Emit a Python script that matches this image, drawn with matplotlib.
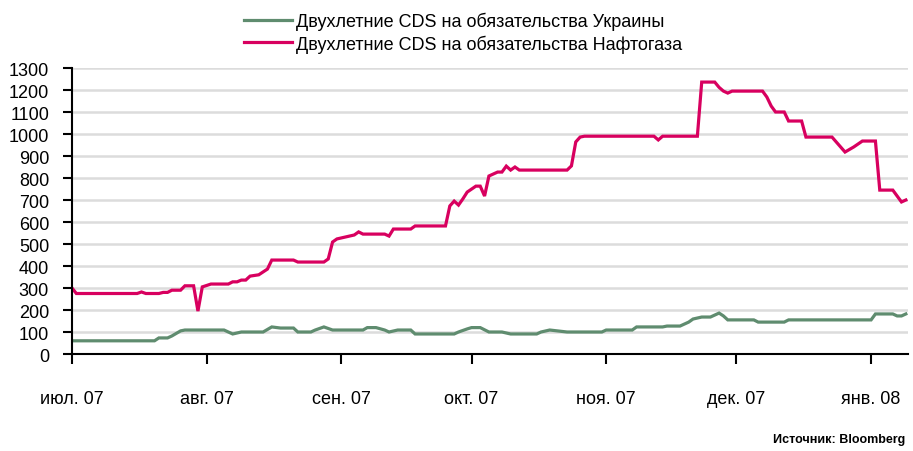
import matplotlib
matplotlib.use("Agg")
import numpy as np
import pandas as pd
from matplotlib import pyplot as plt

plt.rcParams["font.family"] = ["Liberation Sans", "DejaVu Sans"]

# Naftogaz 2y CDS (bp), key points
naftogaz_dates = [
    "2007-07-01", "2007-07-02", "2007-07-16", "2007-07-17", "2007-07-18", "2007-07-21",
    "2007-07-22", "2007-07-23", "2007-07-24", "2007-07-26", "2007-07-27", "2007-07-29",
    "2007-07-30", "2007-07-31", "2007-08-02", "2007-08-06", "2007-08-07", "2007-08-08",
    "2007-08-09", "2007-08-10", "2007-08-11", "2007-08-13", "2007-08-15", "2007-08-16",
    "2007-08-21", "2007-08-22", "2007-08-28", "2007-08-29", "2007-08-30", "2007-08-31",
    "2007-09-02", "2007-09-04", "2007-09-05", "2007-09-06", "2007-09-11", "2007-09-12",
    "2007-09-13", "2007-09-17", "2007-09-18", "2007-09-25", "2007-09-26", "2007-09-27",
    "2007-09-28", "2007-09-29", "2007-09-30", "2007-10-02", "2007-10-03", "2007-10-04",
    "2007-10-05", "2007-10-06", "2007-10-07", "2007-10-08", "2007-10-09", "2007-10-10",
    "2007-10-11", "2007-10-12", "2007-10-23", "2007-10-24", "2007-10-25", "2007-10-26",
    "2007-10-27", "2007-11-12", "2007-11-13", "2007-11-14", "2007-11-22", "2007-11-23",
    "2007-11-26", "2007-11-27", "2007-11-28", "2007-11-29", "2007-11-30", "2007-12-07",
    "2007-12-08", "2007-12-09", "2007-12-10", "2007-12-12", "2007-12-13", "2007-12-16",
    "2007-12-17", "2007-12-23", "2007-12-26", "2007-12-28", "2007-12-30", "2008-01-02",
    "2008-01-03", "2008-01-06", "2008-01-07", "2008-01-08", "2008-01-09",
]
naftogaz_values = [
    300, 275, 275, 282, 275, 275,
    280, 280, 290, 290, 310, 310,
    195, 305, 318, 318, 328, 328,
    336, 336, 354, 360, 386, 427,
    427, 418, 418, 432, 509, 523,
    532, 541, 555, 545, 545, 536,
    568, 568, 582, 582, 673, 695,
    677, 705, 736, 763, 763, 718,
    809, 818, 827, 827, 854, 836,
    850, 836, 836, 855, 964, 986,
    990, 990, 973, 990, 990, 1236,
    1236, 1212, 1195, 1186, 1195, 1195,
    1168, 1127, 1100, 1100, 1059, 1059,
    986, 986, 918, 941, 968, 968,
    745, 745, 718, 691, 700,
]

# Ukraine 2y CDS (bp)
ukraine_dates = [
    "2007-07-01", "2007-07-20", "2007-07-21", "2007-07-23", "2007-07-24", "2007-07-26",
    "2007-07-27", "2007-08-05", "2007-08-07", "2007-08-09", "2007-08-14", "2007-08-16",
    "2007-08-18", "2007-08-21", "2007-08-22", "2007-08-25", "2007-08-26", "2007-08-28",
    "2007-08-30", "2007-09-06", "2007-09-07", "2007-09-09", "2007-09-11", "2007-09-12",
    "2007-09-14", "2007-09-17", "2007-09-18", "2007-09-27", "2007-09-28", "2007-09-30",
    "2007-10-01", "2007-10-03", "2007-10-05", "2007-10-08", "2007-10-10", "2007-10-16",
    "2007-10-17", "2007-10-19", "2007-10-23", "2007-10-31", "2007-11-01", "2007-11-07",
    "2007-11-08", "2007-11-14", "2007-11-15", "2007-11-18", "2007-11-20", "2007-11-21",
    "2007-11-23", "2007-11-25", "2007-11-27", "2007-11-28", "2007-11-29", "2007-12-05",
    "2007-12-06", "2007-12-12", "2007-12-13", "2008-01-01", "2008-01-02", "2008-01-06",
    "2008-01-07", "2008-01-08", "2008-01-09",
]
ukraine_values = [
    60, 60, 73, 73, 82, 105,
    109, 109, 91, 100, 100, 123,
    118, 118, 100, 100, 109, 123,
    109, 109, 120, 120, 109, 100,
    109, 109, 91, 91, 100, 114,
    120, 120, 100, 100, 91, 91,
    100, 109, 100, 100, 109, 109,
    123, 123, 127, 127, 145, 159,
    168, 168, 186, 173, 155, 155,
    145, 145, 155, 155, 182, 182,
    173, 173, 182,
]

month_ticks = ["2007-07-01", "2007-08-01", "2007-09-01", "2007-10-01",
               "2007-11-01", "2007-12-01", "2008-01-01"]
month_labels = ["июл. 07", "авг. 07", "сен. 07", "окт. 07", "ноя. 07", "дек. 07", "янв. 08"]

green = "#5f8c6f"
magenta = "#d8005f"

fig = plt.figure(figsize=(9.13, 4.52), dpi=100)
ax = fig.add_axes([72 / 913, 1 - 355 / 452, (908 - 72) / 913, (355 - 69) / 452])

ax.plot(pd.to_datetime(ukraine_dates), ukraine_values, color=green, lw=2.3,
        label="Двухлетние CDS на обязательства Украины", solid_joinstyle="miter")
ax.plot(pd.to_datetime(naftogaz_dates), naftogaz_values, color=magenta, lw=2.3,
        label="Двухлетние CDS на обязательства Нафтогаза", solid_joinstyle="miter")

ax.set_xlim(pd.Timestamp("2007-07-01"), pd.Timestamp("2008-01-09 12:00"))
ax.set_ylim(0, 1300)
ax.set_yticks(np.arange(0, 1301, 100))
ax.set_xticks(pd.to_datetime(month_ticks))
ax.set_xticklabels(month_labels)

ax.grid(axis="y", color="#dcdcdc", lw=1.8)
ax.set_axisbelow(True)
for s in ["top", "right"]:
    ax.spines[s].set_visible(False)
for s in ["left", "bottom"]:
    ax.spines[s].set_color("black")
    ax.spines[s].set_linewidth(1.5)

ax.tick_params(axis="y", direction="out", length=6.5, width=1.5, labelsize=13, pad=10)
ax.tick_params(axis="x", direction="out", length=7, width=1.5, labelsize=13, pad=19)

fig.legend(loc="upper left", bbox_to_anchor=(244 / 913, 1 - 13 / 452), frameon=False,
           fontsize=13, handlelength=2.65, handletextpad=0.25, labelspacing=0.22,
           borderpad=0, borderaxespad=0)

fig.text(905 / 913, 1 - 440 / 452, "Источник: Bloomberg", ha="right", va="center",
         fontsize=9, fontweight="bold")

plt.savefig("out.png", dpi=100)
